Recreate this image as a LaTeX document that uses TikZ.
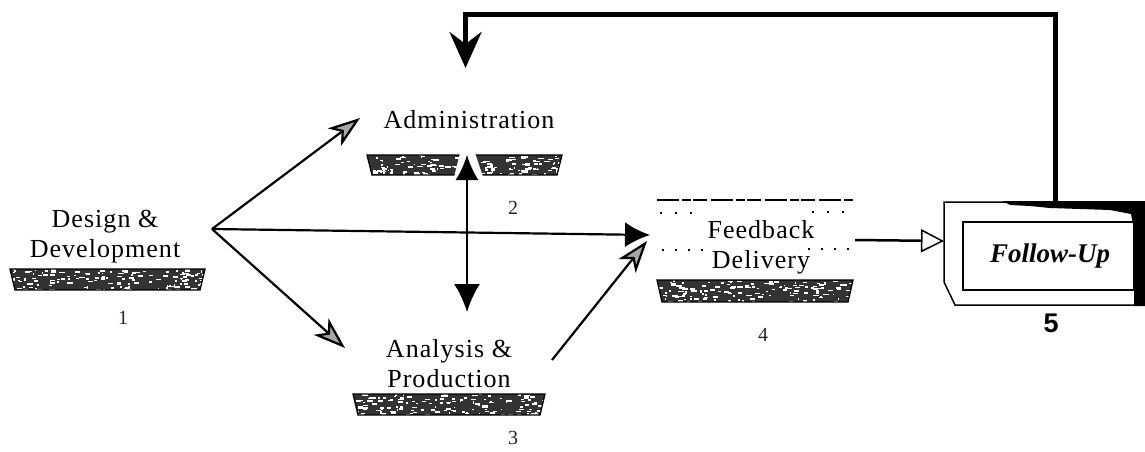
\documentclass[tikz,border=0pt]{standalone}
\usepackage{fontspec}
\setmainfont{Liberation Serif}
\newfontfamily\lsans{Liberation Sans}
\newfontfamily\spaced[LetterSpace=4]{Liberation Serif}
\usetikzlibrary{arrows.meta}
\newcommand\stipbar[4]{%
  \begin{scope}
    \path[clip] (#1,#2) -- (#3,#2) -- ({#3-5},#4) -- ({#1+5},#4) -- cycle;
    \fill[black!80] (#1,#2) rectangle (#3,#4);
    \foreach \i in {1,...,140} {%
      \fill[white] ({#1+rnd*(#3-#1)},{#2+rnd*(#4-#2)}) rectangle ++({1+5*rnd},{0.8+1.6*rnd});}
  \end{scope}
  \draw[line width=1.3pt] (#1,#2) -- (#3,#2) -- ({#3-5},#4) -- ({#1+5},#4) -- cycle;
}
\begin{document}
\begin{tikzpicture}[x=1pt,y=-1pt,
  lbl/.style={font=\spaced\fontsize{26}{30}\selectfont, align=center, inner sep=0pt},
  num/.style={font=\fontsize{20}{22}\selectfont, inner sep=0pt, text=black!85},
  conn/.style={line width=2.2pt},
  hollowtip/.style={-{Stealth[length=32pt,width=22pt,inset=9pt,fill=black!35]}},
  filledtip/.style={-{Latex[length=25pt,width=25pt]}},
]
\pgfmathsetseed{42}
\useasboundingbox (0,0) rectangle (1145,452);

% labels
\node[lbl] (dd) at (105,237) {Design \&\\Development};
\node[lbl, anchor=base] (adm) at (469,128) {Administration};
\node[lbl] (ana) at (449,364) {Analysis \&\\Production};
\node[lbl] (fb) at (761,247) {Feedback\\Delivery};
\node[num] (n1) at (123,318) {1};
\node[num] (n2) at (513,208) {2};
\node[num] (n3) at (513,438) {3};
\node[num] (n4) at (763,335) {4};
\node[font=\lsans\bfseries\fontsize{27}{30}\selectfont, inner sep=0pt] (n5) at (1051,323) {5};

% bars
\stipbar{10}{269}{205}{290}
\stipbar{367}{155}{562}{175}
\stipbar{353}{394}{545}{415}
\stipbar{657}{280}{853}{302}
\fill[white] (460,153) -- (475,153) -- (483,177) -- (454,177) -- cycle;

% feedback box outline (dotted)
\draw[line width=1.6pt, dash pattern=on 22pt off 3pt on 9pt off 2pt on 14pt off 4pt] (657,200) -- (855,200);
\draw[line width=1.5pt, dash pattern=on 2pt off 13pt] (660,213) -- (700,213) (812,212) -- (855,212);
\draw[line width=1.5pt, dash pattern=on 2pt off 11pt] (662,250) -- (705,250) (808,249) -- (855,249);

% follow-up box
\draw[line width=1.5pt] (944,202) -- (1142,202) -- (1142,305) -- (955,305) -- (944,282) -- cycle;
\fill (1003,201) -- (1145,201) -- (1145,306) -- (1134,306) -- (1134,230) -- (1131,214) -- (1110,210) -- (1080,209) -- (1050,208) -- (1030,206) -- (1010,205) -- cycle;
\draw[line width=1.2pt] (963,222) rectangle (1134,290);
\node[font=\bfseries\itshape\fontsize{27}{30}\selectfont, inner sep=0pt, anchor=base] (fu) at (1050,262) {Follow-Up};

% coordinates
\coordinate (fan) at (212,229);
\coordinate (admIn) at (360,118);
\coordinate (anaIn) at (345,348);
\coordinate (fbIn) at (650,235);
\coordinate (anaOut) at (552,360);
\coordinate (fbIn2) at (647,241);
\coordinate (fbOut) at (855,240);
\coordinate (fuIn) at (944,241);
\coordinate (admBar) at (467,155);
\coordinate (anaTop) at (467,312);
\coordinate (fuTop) at (1055,202);
\coordinate (loopTop) at (465.5,14.5);
\coordinate (admTop) at (465.5,68);

% connectors
\draw[conn, hollowtip] (fan) -- (admIn);
\draw[conn, hollowtip] (fan) -- (anaIn);
\draw[conn, filledtip] (fan) -- (fbIn);
\draw[conn, hollowtip] (anaOut) -- (fbIn2);
\draw[conn, {Latex[length=25pt,width=23pt]}-{Latex[length=28pt,width=26pt]}] (admBar) -- (anaTop);
\draw[line width=2.5pt, -{Triangle[open,length=23pt,width=23pt,fill=white,line width=1.5pt]}] (fbOut) -- (fuIn);
\draw[line width=5pt, line join=miter, -{Stealth[length=36pt,width=32pt,inset=12pt]}] (fuTop) |- (loopTop) -- (admTop);
\end{tikzpicture}
\end{document}
